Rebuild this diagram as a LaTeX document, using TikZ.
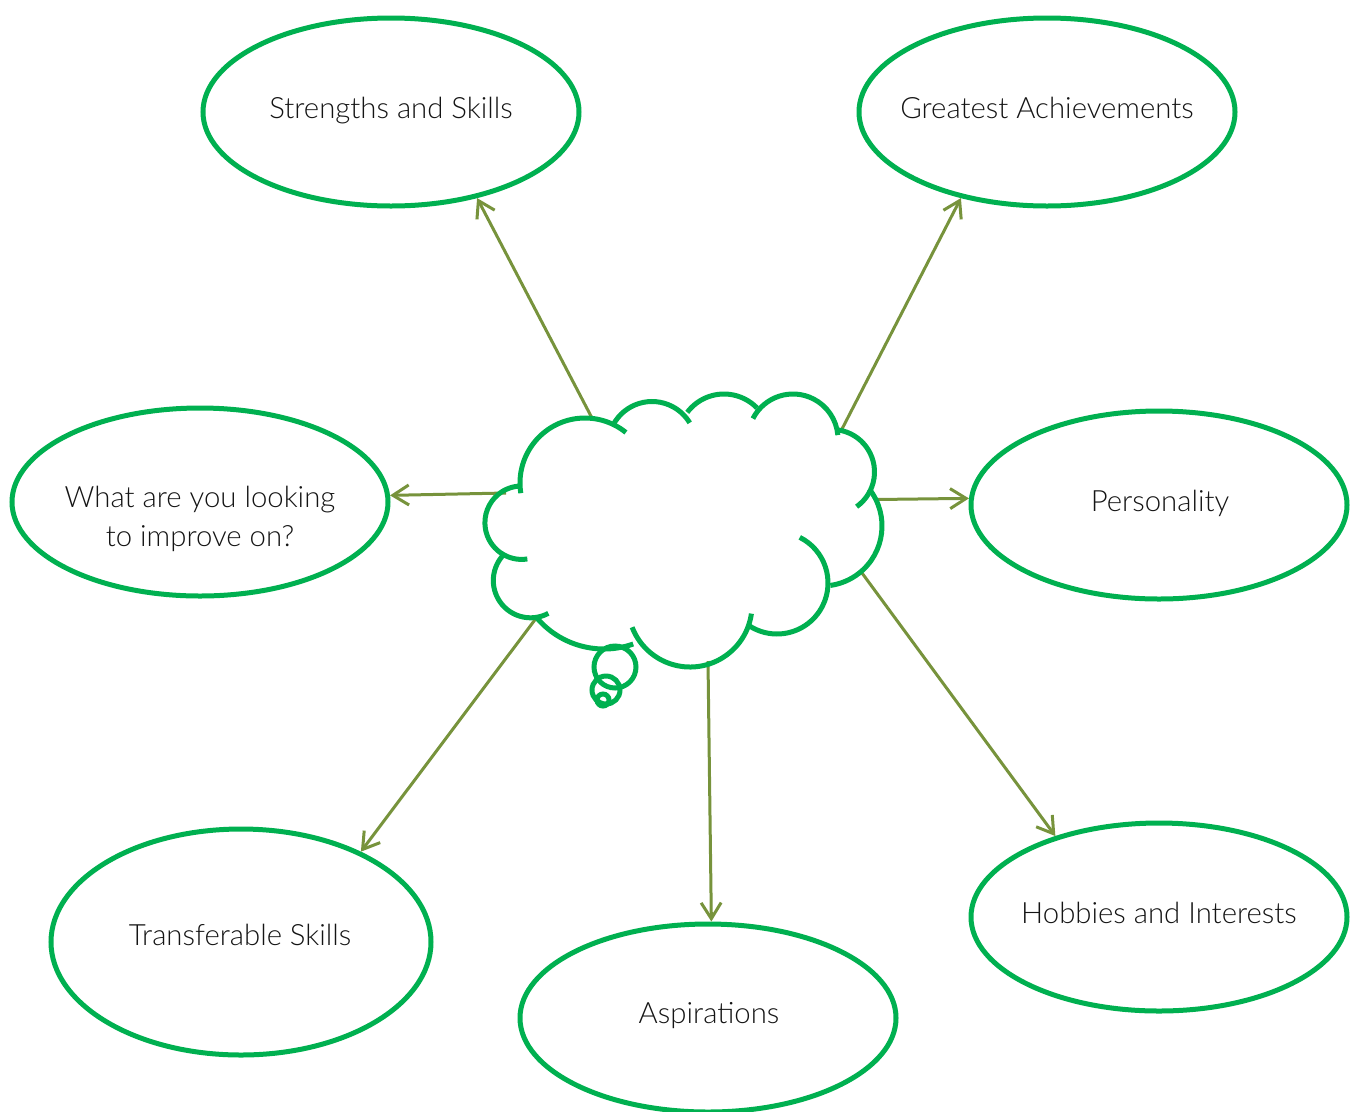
\documentclass[tikz,border=0pt]{standalone}
\usepackage{fontspec}
\setmainfont{Lato Light}
\usetikzlibrary{shapes.geometric,arrows.meta}
\definecolor{bubblegreen}{HTML}{00B050}
\definecolor{olivearrow}{HTML}{77933C}
\definecolor{labeltext}{HTML}{141414}
\begin{document}
\begin{tikzpicture}[x=0.75pt,y=-0.75pt,
  bubble/.style={ellipse,draw=bubblegreen,line width=3.75pt,minimum width=282pt,minimum height=141pt,inner sep=0pt},
  lbl/.style={anchor=base,text=labeltext,font=\fontsize{22}{29}\selectfont,inner sep=0pt,align=center},
  arr/.style={draw=olivearrow,line width=2.25pt,-{Straight Barb[length=12pt,width=15pt]}},
  cloudline/.style={draw=bubblegreen,line width=3.75pt}]
\useasboundingbox (0,0) rectangle (1356,1111);

% topic ellipses
\node[bubble] (ss) at (391,112) {};
\node[bubble] (ga) at (1047,112) {};
\node[bubble] (wi) at (200,502) {};
\node[bubble] (pe) at (1159,505) {};
\node[bubble,minimum height=169.5pt,minimum width=285pt] (ts) at (241,942) {};
\node[bubble] (as) at (708,1018) {};
\node[bubble] (hi) at (1159,917) {};

% labels
\node[lbl] (tss) at (391,118) {Strengths and Skills};
\node[lbl] (tga) at (1047,118) {Greatest Achievements};
\node[lbl] (twi) at (200,546) {What are you looking\\to improve on?};
\node[lbl] (tpe) at (1160,511) {Personality};
\node[lbl] (tts) at (240,945) {Transferable Skills};
\node[lbl] (tas) at (709,1023) {Aspirations};
\node[lbl] (thi) at (1159,923) {Hobbies and Interests};

% connector start points on the cloud
\coordinate (c1) at (592,418);
\coordinate (c2) at (842,429);
\coordinate (c3) at (506,493);
\coordinate (c4) at (876,499.5);
\coordinate (c5) at (537,617);
\coordinate (c6) at (708,661);
\coordinate (c7) at (862,573);

\draw[arr] (c1) -- (ss.-45.7);
\draw[arr] (c2) -- (ga.-135);
\draw[arr] (c3) -- (wi.2.2);
\draw[arr] (c4) -- (pe.178.2);
\draw[arr] (c5) -- (ts.37);
\draw[arr] (c6) -- (as.88.9);
\draw[arr] (c7) -- (hi.142.7);

% thought cloud
\draw[cloudline] (585,483) ++(171:65) arc[start angle=171,end angle=309,radius=65];
\draw[cloudline] (652,445.5) ++(208:44) arc[start angle=208,end angle=329,radius=44];
\draw[cloudline] (724,440) ++(217:46) arc[start angle=217,end angle=316,radius=46];
\draw[cloudline] (793,439) ++(207:45) arc[start angle=207,end angle=355,radius=45];
\draw[cloudline] (832,472) ++(278.5:42.5) arc[start angle=278.5,end angle=414.6,radius=42.5];
\draw[cloudline] (822,526) ++(322:60) arc[start angle=322,end angle=442,radius=60];
\draw[cloudline] (777,583) ++(296.5:51) arc[start angle=296.5,end angle=482.4,radius=51];
\draw[cloudline] (690,605) ++(8:62) arc[start angle=8,end angle=159,radius=62];
\draw[cloudline] (604,561) ++(70.6:88) arc[start angle=70.6,end angle=140.2,radius=88];
\draw[cloudline] (530.6,580.5) ++(61.6:37.3) arc[start angle=61.6,end angle=226.7,radius=37.3];
\draw[cloudline] (521.6,522.7) ++(81:36.7) arc[start angle=81,end angle=270,radius=36.7];
% thought bubbles
\draw[cloudline] (615,667) circle[radius=21];
\draw[cloudline] (606,690) circle[radius=14];
\draw[cloudline] (603,700) circle[radius=6];
\end{tikzpicture}
\end{document}
